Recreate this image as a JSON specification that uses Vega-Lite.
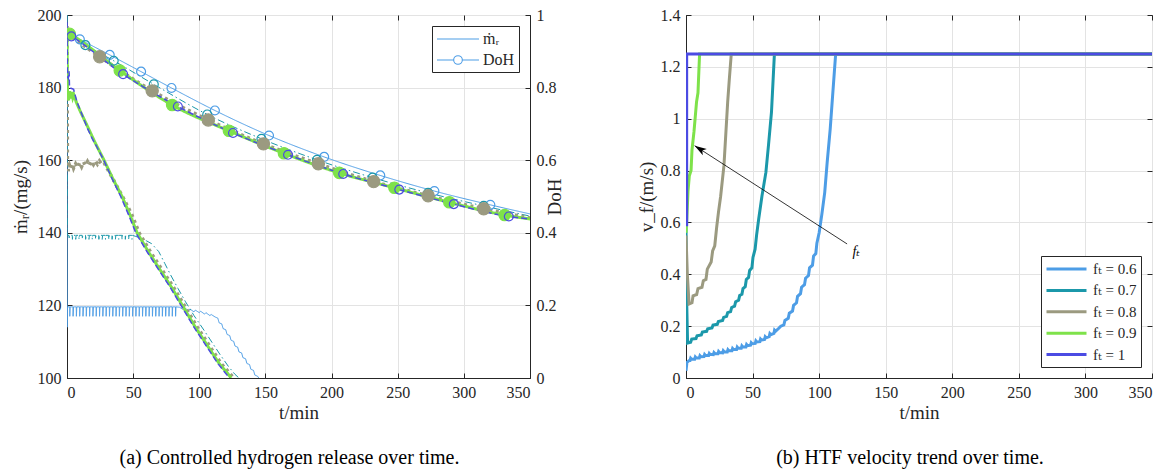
{
  "$schema": "https://vega.github.io/schema/vega-lite/v6.json",
  "background": "white",
  "padding": {"left": 10, "top": 6, "right": 5, "bottom": 5},
  "spacing": 71,
  "config": {
    "font": "Liberation Serif, DejaVu Serif, serif",
    "view": {"stroke": "#262626", "strokeWidth": 1},
    "axis": {
      "labelFont": "Liberation Serif, DejaVu Serif, serif", "titleFont": "Liberation Serif, DejaVu Serif, serif",
      "labelFontSize": 16, "titleFontSize": 19, "titleFontWeight": "normal",
      "labelColor": "#262626", "titleColor": "#262626",
      "domainColor": "#262626", "tickColor": "#262626",
      "gridColor": "#e3e3e3", "tickSize": -5, "labelPadding": 11, "titlePadding": 3
    },
    "legend": {
      "labelFont": "Liberation Serif, DejaVu Serif, serif", "labelFontSize": 16, "labelColor": "#262626",
      "strokeColor": "#262626", "fillColor": "white", "padding": 4
    },
    "title": {"font": "Liberation Serif, DejaVu Serif, serif", "fontSize": 20, "fontWeight": "normal", "color": "black"}
  },
  "resolve": {
    "scale": {"color": "independent", "shape": "independent"},
    "legend": {"color": "independent", "shape": "independent"}
  },
  "datasets": {
    "mr": [
      {"f":"0.6","t":0,"v":200},{"f":"0.6","t":0.15,"v":114},{"f":"0.6","t":0.4,"v":119.6},
      {"f":"0.6","t":2,"v":119.6},{"f":"0.6","t":2.1,"v":117},{"f":"0.6","t":2.4,"v":119.6},
      {"f":"0.6","t":4.5,"v":119.6},{"f":"0.6","t":4.6,"v":117},{"f":"0.6","t":4.9,"v":119.6},
      {"f":"0.6","t":7,"v":119.6},{"f":"0.6","t":7.1,"v":117},{"f":"0.6","t":7.4,"v":119.6},
      {"f":"0.6","t":9.5,"v":119.6},{"f":"0.6","t":9.6,"v":117},{"f":"0.6","t":9.9,"v":119.6},
      {"f":"0.6","t":12,"v":119.6},{"f":"0.6","t":12.1,"v":117},{"f":"0.6","t":12.4,"v":119.6},
      {"f":"0.6","t":14.5,"v":119.6},{"f":"0.6","t":14.6,"v":117},{"f":"0.6","t":14.9,"v":119.6},
      {"f":"0.6","t":17,"v":119.6},{"f":"0.6","t":17.1,"v":117},{"f":"0.6","t":17.4,"v":119.6},
      {"f":"0.6","t":19.5,"v":119.6},{"f":"0.6","t":19.6,"v":117},{"f":"0.6","t":19.9,"v":119.6},
      {"f":"0.6","t":22,"v":119.6},{"f":"0.6","t":22.1,"v":117},{"f":"0.6","t":22.4,"v":119.6},
      {"f":"0.6","t":24.5,"v":119.6},{"f":"0.6","t":24.6,"v":117},{"f":"0.6","t":24.9,"v":119.6},
      {"f":"0.6","t":27,"v":119.6},{"f":"0.6","t":27.1,"v":117},{"f":"0.6","t":27.4,"v":119.6},
      {"f":"0.6","t":29.5,"v":119.6},{"f":"0.6","t":29.6,"v":117},{"f":"0.6","t":29.9,"v":119.6},
      {"f":"0.6","t":32,"v":119.6},{"f":"0.6","t":32.1,"v":117},{"f":"0.6","t":32.4,"v":119.6},
      {"f":"0.6","t":34.5,"v":119.6},{"f":"0.6","t":34.6,"v":117},{"f":"0.6","t":34.9,"v":119.6},
      {"f":"0.6","t":37,"v":119.6},{"f":"0.6","t":37.1,"v":117},{"f":"0.6","t":37.4,"v":119.6},
      {"f":"0.6","t":39.5,"v":119.6},{"f":"0.6","t":39.6,"v":117},{"f":"0.6","t":39.9,"v":119.6},
      {"f":"0.6","t":42,"v":119.6},{"f":"0.6","t":42.1,"v":117},{"f":"0.6","t":42.4,"v":119.6},
      {"f":"0.6","t":44.5,"v":119.6},{"f":"0.6","t":44.6,"v":117},{"f":"0.6","t":44.9,"v":119.6},
      {"f":"0.6","t":47,"v":119.6},{"f":"0.6","t":47.1,"v":117},{"f":"0.6","t":47.4,"v":119.6},
      {"f":"0.6","t":49.5,"v":119.6},{"f":"0.6","t":49.6,"v":117},{"f":"0.6","t":49.9,"v":119.6},
      {"f":"0.6","t":52,"v":119.6},{"f":"0.6","t":52.1,"v":117},{"f":"0.6","t":52.4,"v":119.6},
      {"f":"0.6","t":54.5,"v":119.6},{"f":"0.6","t":54.6,"v":117},{"f":"0.6","t":54.9,"v":119.6},
      {"f":"0.6","t":57,"v":119.6},{"f":"0.6","t":57.1,"v":117},{"f":"0.6","t":57.4,"v":119.6},
      {"f":"0.6","t":59.5,"v":119.6},{"f":"0.6","t":59.6,"v":117},{"f":"0.6","t":59.9,"v":119.6},
      {"f":"0.6","t":62,"v":119.6},{"f":"0.6","t":62.1,"v":117},{"f":"0.6","t":62.4,"v":119.6},
      {"f":"0.6","t":64.5,"v":119.6},{"f":"0.6","t":64.6,"v":117},{"f":"0.6","t":64.9,"v":119.6},
      {"f":"0.6","t":67,"v":119.6},{"f":"0.6","t":67.1,"v":117},{"f":"0.6","t":67.4,"v":119.6},
      {"f":"0.6","t":69.5,"v":119.6},{"f":"0.6","t":69.6,"v":117},{"f":"0.6","t":69.9,"v":119.6},
      {"f":"0.6","t":72,"v":119.6},{"f":"0.6","t":72.1,"v":117},{"f":"0.6","t":72.4,"v":119.6},
      {"f":"0.6","t":74.5,"v":119.6},{"f":"0.6","t":74.6,"v":117},{"f":"0.6","t":74.9,"v":119.6},
      {"f":"0.6","t":77,"v":119.6},{"f":"0.6","t":77.1,"v":117},{"f":"0.6","t":77.4,"v":119.6},
      {"f":"0.6","t":79.5,"v":119.6},{"f":"0.6","t":79.6,"v":117},{"f":"0.6","t":79.9,"v":119.6},
      {"f":"0.6","t":82,"v":119.6},{"f":"0.6","t":82.1,"v":117},{"f":"0.6","t":82.4,"v":119.6},
      {"f":"0.6","t":85,"v":119.5},{"f":"0.6","t":88,"v":118.8},{"f":"0.6","t":89,"v":119.3},
      {"f":"0.6","t":92,"v":118.5},{"f":"0.6","t":93,"v":119},{"f":"0.6","t":96,"v":118.2},
      {"f":"0.6","t":97,"v":118.7},{"f":"0.6","t":100,"v":118},{"f":"0.6","t":101,"v":118.4},
      {"f":"0.6","t":104,"v":117.6},{"f":"0.6","t":105,"v":118},{"f":"0.6","t":108,"v":117.2},
      {"f":"0.6","t":109,"v":117.5},{"f":"0.6","t":112,"v":116.8},{"f":"0.6","t":114,"v":116.5},
      {"f":"0.6","t":115,"v":115.2},{"f":"0.6","t":117,"v":114.9},{"f":"0.6","t":118,"v":113.6},
      {"f":"0.6","t":120,"v":113.3},{"f":"0.6","t":121,"v":112},{"f":"0.6","t":123,"v":111.7},
      {"f":"0.6","t":124,"v":110.4},{"f":"0.6","t":126,"v":110.1},{"f":"0.6","t":127,"v":108.8},
      {"f":"0.6","t":129,"v":108.5},{"f":"0.6","t":130,"v":107.2},{"f":"0.6","t":132,"v":106.9},
      {"f":"0.6","t":133,"v":105.6},{"f":"0.6","t":135,"v":105.3},{"f":"0.6","t":136,"v":104},
      {"f":"0.6","t":138,"v":103.7},{"f":"0.6","t":139,"v":102.4},{"f":"0.6","t":141,"v":102.1},
      {"f":"0.6","t":142,"v":100.8},{"f":"0.6","t":144,"v":100.5},{"f":"0.6","t":145,"v":100},

      {"f":"0.7","t":0,"v":200},{"f":"0.7","t":0.2,"v":139.3},
      {"f":"0.7","t":1.5,"v":139.3},{"f":"0.7","t":1.6,"v":138.2},{"f":"0.7","t":1.9,"v":139.3},
      {"f":"0.7","t":4,"v":139.3},{"f":"0.7","t":4.1,"v":138.2},{"f":"0.7","t":4.4,"v":139.3},
      {"f":"0.7","t":6.5,"v":139.3},{"f":"0.7","t":6.6,"v":138.2},{"f":"0.7","t":6.9,"v":139.3},
      {"f":"0.7","t":9,"v":139.3},{"f":"0.7","t":9.1,"v":138.2},{"f":"0.7","t":9.4,"v":139.3},
      {"f":"0.7","t":11.5,"v":139.3},{"f":"0.7","t":11.6,"v":138.2},{"f":"0.7","t":11.9,"v":139.3},
      {"f":"0.7","t":14,"v":139.3},{"f":"0.7","t":14.1,"v":138.2},{"f":"0.7","t":14.4,"v":139.3},
      {"f":"0.7","t":16.5,"v":139.3},{"f":"0.7","t":16.6,"v":138.2},{"f":"0.7","t":16.9,"v":139.3},
      {"f":"0.7","t":19,"v":139.3},{"f":"0.7","t":19.1,"v":138.2},{"f":"0.7","t":19.4,"v":139.3},
      {"f":"0.7","t":21.5,"v":139.3},{"f":"0.7","t":21.6,"v":138.2},{"f":"0.7","t":21.9,"v":139.3},
      {"f":"0.7","t":24,"v":139.3},{"f":"0.7","t":24.1,"v":138.2},{"f":"0.7","t":24.4,"v":139.3},
      {"f":"0.7","t":26.5,"v":139.3},{"f":"0.7","t":26.6,"v":138.2},{"f":"0.7","t":26.9,"v":139.3},
      {"f":"0.7","t":29,"v":139.3},{"f":"0.7","t":29.1,"v":138.2},{"f":"0.7","t":29.4,"v":139.3},
      {"f":"0.7","t":31.5,"v":139.3},{"f":"0.7","t":31.6,"v":138.2},{"f":"0.7","t":31.9,"v":139.3},
      {"f":"0.7","t":34,"v":139.3},{"f":"0.7","t":34.1,"v":138.2},{"f":"0.7","t":34.4,"v":139.3},
      {"f":"0.7","t":36.5,"v":139.3},{"f":"0.7","t":36.6,"v":138.2},{"f":"0.7","t":36.9,"v":139.3},
      {"f":"0.7","t":39,"v":139.3},{"f":"0.7","t":39.1,"v":138.2},{"f":"0.7","t":39.4,"v":139.3},
      {"f":"0.7","t":41.5,"v":139.3},{"f":"0.7","t":41.6,"v":138.2},{"f":"0.7","t":41.9,"v":139.3},
      {"f":"0.7","t":44,"v":139.3},{"f":"0.7","t":44.1,"v":138.2},{"f":"0.7","t":44.4,"v":139.3},
      {"f":"0.7","t":46.5,"v":139.3},{"f":"0.7","t":46.6,"v":138.2},{"f":"0.7","t":46.9,"v":139.3},
      {"f":"0.7","t":49,"v":139.3},{"f":"0.7","t":49.1,"v":138.2},{"f":"0.7","t":49.4,"v":139.3},
      {"f":"0.7","t":52,"v":139},{"f":"0.7","t":56,"v":138.5},{"f":"0.7","t":60,"v":137.8},
      {"f":"0.7","t":64,"v":137},{"f":"0.7","t":69.4,"v":134.8},{"f":"0.7","t":74,"v":131.5},
      {"f":"0.7","t":78.3,"v":128.4},{"f":"0.7","t":84,"v":124.6},{"f":"0.7","t":89.6,"v":121},
      {"f":"0.7","t":96,"v":117.2},{"f":"0.7","t":103.5,"v":113.2},{"f":"0.7","t":110,"v":109.6},
      {"f":"0.7","t":116,"v":106.3},{"f":"0.7","t":122,"v":103.2},{"f":"0.7","t":127,"v":101},
      {"f":"0.7","t":130,"v":100},

      {"f":"0.8","t":0,"v":197},{"f":"0.8","t":0.3,"v":160},{"f":"0.8","t":1,"v":157},
      {"f":"0.8","t":2,"v":158.5},{"f":"0.8","t":3,"v":157.5},{"f":"0.8","t":4,"v":159},
      {"f":"0.8","t":5,"v":157.8},{"f":"0.8","t":6.5,"v":159},{"f":"0.8","t":8,"v":158},
      {"f":"0.8","t":9.5,"v":159.3},{"f":"0.8","t":11,"v":158.2},{"f":"0.8","t":12.5,"v":159.5},
      {"f":"0.8","t":14,"v":158.5},{"f":"0.8","t":15.5,"v":159.6},{"f":"0.8","t":17,"v":158.6},
      {"f":"0.8","t":18.5,"v":159.7},{"f":"0.8","t":20,"v":158.8},{"f":"0.8","t":21.5,"v":159.8},
      {"f":"0.8","t":23,"v":158.9},{"f":"0.8","t":24.5,"v":159.8},{"f":"0.8","t":26,"v":159},
      {"f":"0.8","t":28,"v":159.3},{"f":"0.8","t":31,"v":157.3},{"f":"0.8","t":34,"v":155.3},
      {"f":"0.8","t":38.5,"v":152.3},{"f":"0.8","t":43,"v":149.3},{"f":"0.8","t":49,"v":145},
      {"f":"0.8","t":54.5,"v":140},{"f":"0.8","t":63.5,"v":134.5},{"f":"0.8","t":71.5,"v":130},
      {"f":"0.8","t":80.5,"v":125},{"f":"0.8","t":89.5,"v":119.5},{"f":"0.8","t":98.5,"v":114},
      {"f":"0.8","t":107.5,"v":109},{"f":"0.8","t":116.5,"v":104},{"f":"0.8","t":123,"v":101.3},
      {"f":"0.8","t":126,"v":100},

      {"f":"0.9","t":0,"v":196},{"f":"0.9","t":0.4,"v":178},{"f":"0.9","t":1.2,"v":176.5},
      {"f":"0.9","t":2,"v":179},{"f":"0.9","t":2.8,"v":177},{"f":"0.9","t":3.6,"v":178.8},
      {"f":"0.9","t":4.4,"v":177.2},{"f":"0.9","t":5.2,"v":178},{"f":"0.9","t":7,"v":176},
      {"f":"0.9","t":10,"v":173.5},{"f":"0.9","t":14.6,"v":170},{"f":"0.9","t":21,"v":165},
      {"f":"0.9","t":28,"v":160},{"f":"0.9","t":34.5,"v":155},{"f":"0.9","t":41.6,"v":150},
      {"f":"0.9","t":47.5,"v":145},{"f":"0.9","t":53,"v":140},{"f":"0.9","t":62,"v":134.5},
      {"f":"0.9","t":70,"v":130},{"f":"0.9","t":79,"v":125},{"f":"0.9","t":88,"v":119.5},
      {"f":"0.9","t":97,"v":114},{"f":"0.9","t":106,"v":109},{"f":"0.9","t":115,"v":104},
      {"f":"0.9","t":122,"v":101},{"f":"0.9","t":124,"v":100},

      {"f":"1","t":0,"v":198},{"f":"1","t":0.3,"v":183},{"f":"1","t":1,"v":182.5},
      {"f":"1","t":1.6,"v":184.5},{"f":"1","t":1.9,"v":180},{"f":"1","t":5,"v":179.5},
      {"f":"1","t":7.6,"v":176},{"f":"1","t":11.4,"v":172.5},{"f":"1","t":15.2,"v":169},
      {"f":"1","t":19,"v":166},{"f":"1","t":22.8,"v":163.5},{"f":"1","t":27.8,"v":160},
      {"f":"1","t":34,"v":155},{"f":"1","t":40.6,"v":150},{"f":"1","t":46.5,"v":145},
      {"f":"1","t":52,"v":140},{"f":"1","t":61,"v":134.5},{"f":"1","t":69,"v":130},
      {"f":"1","t":78,"v":125},{"f":"1","t":87,"v":119.5},{"f":"1","t":96,"v":114},
      {"f":"1","t":105,"v":109},{"f":"1","t":114,"v":104},{"f":"1","t":121,"v":100.8},
      {"f":"1","t":123,"v":100}
    ],
    "doh": [
      {"f":"0.6","t":0,"v":0.952,"m":0},{"f":"0.6","t":9.7,"v":0.933,"m":1},{"f":"0.6","t":32.3,"v":0.89,"m":1},
      {"f":"0.6","t":56,"v":0.844,"m":1},{"f":"0.6","t":79,"v":0.799,"m":1},{"f":"0.6","t":111.8,"v":0.737,"m":1},
      {"f":"0.6","t":152.7,"v":0.668,"m":1},{"f":"0.6","t":194.4,"v":0.609,"m":1},{"f":"0.6","t":236.8,"v":0.558,"m":1},
      {"f":"0.6","t":277.7,"v":0.515,"m":1},{"f":"0.6","t":320,"v":0.477,"m":1},{"f":"0.6","t":350,"v":0.452,"m":0},

      {"f":"0.7","t":0,"v":0.95,"m":0},{"f":"0.7","t":13.9,"v":0.917,"m":1},{"f":"0.7","t":35.3,"v":0.874,"m":1},
      {"f":"0.7","t":65.6,"v":0.809,"m":1},{"f":"0.7","t":106,"v":0.726,"m":1},{"f":"0.7","t":147,"v":0.659,"m":1},
      {"f":"0.7","t":189,"v":0.601,"m":1},{"f":"0.7","t":231,"v":0.552,"m":1},{"f":"0.7","t":273,"v":0.51,"m":1},
      {"f":"0.7","t":315,"v":0.474,"m":1},{"f":"0.7","t":350,"v":0.446,"m":0},

      {"f":"0.8","t":0,"v":0.948,"m":0},{"f":"0.8","t":24.7,"v":0.885,"m":1},{"f":"0.8","t":64.4,"v":0.791,"m":1},
      {"f":"0.8","t":106.8,"v":0.711,"m":1},{"f":"0.8","t":148.5,"v":0.645,"m":1},{"f":"0.8","t":190,"v":0.59,"m":1},
      {"f":"0.8","t":231.8,"v":0.541,"m":1},{"f":"0.8","t":273,"v":0.502,"m":1},{"f":"0.8","t":315,"v":0.466,"m":1},
      {"f":"0.8","t":350,"v":0.441,"m":0},

      {"f":"0.9","t":0,"v":0.952,"m":0},{"f":"0.9","t":2,"v":0.948,"m":1},{"f":"0.9","t":39.9,"v":0.847,"m":1},
      {"f":"0.9","t":79.5,"v":0.752,"m":1},{"f":"0.9","t":122.4,"v":0.681,"m":1},{"f":"0.9","t":164,"v":0.619,"m":1},
      {"f":"0.9","t":205.8,"v":0.565,"m":1},{"f":"0.9","t":247.5,"v":0.524,"m":1},{"f":"0.9","t":289,"v":0.484,"m":1},
      {"f":"0.9","t":330.8,"v":0.449,"m":1},{"f":"0.9","t":350,"v":0.438,"m":0},

      {"f":"1","t":0,"v":0.948,"m":0},{"f":"1","t":3.3,"v":0.941,"m":1},{"f":"1","t":42.4,"v":0.837,"m":1},
      {"f":"1","t":83.8,"v":0.748,"m":1},{"f":"1","t":125.5,"v":0.675,"m":1},{"f":"1","t":167.1,"v":0.615,"m":1},
      {"f":"1","t":208.8,"v":0.562,"m":1},{"f":"1","t":251.2,"v":0.519,"m":1},{"f":"1","t":292.4,"v":0.479,"m":1},
      {"f":"1","t":334,"v":0.445,"m":1},{"f":"1","t":350,"v":0.438,"m":0}
    ],
    "leg": [{"k":"ṁᵣ"},{"k":"DoH"}],
    "vf": [
      {"f":"0.6","t":0,"v":0.028},{"f":"0.6","t":0.7,"v":0.06},{"f":"0.6","t":2.3,"v":0.067},
      {"f":"0.6","t":3,"v":0.0674},{"f":"0.6","t":3.5,"v":0.076},{"f":"0.6","t":4.2,"v":0.072},
      {"f":"0.6","t":6.5,"v":0.0724},{"f":"0.6","t":7,"v":0.081},{"f":"0.6","t":7.7,"v":0.077},
      {"f":"0.6","t":10,"v":0.0774},{"f":"0.6","t":10.5,"v":0.086},{"f":"0.6","t":11.2,"v":0.082},
      {"f":"0.6","t":13.5,"v":0.0824},{"f":"0.6","t":14,"v":0.091},{"f":"0.6","t":14.7,"v":0.087},
      {"f":"0.6","t":17,"v":0.0869},{"f":"0.6","t":17.5,"v":0.095},{"f":"0.6","t":18.2,"v":0.091},
      {"f":"0.6","t":20.5,"v":0.0902},{"f":"0.6","t":21,"v":0.098},{"f":"0.6","t":21.7,"v":0.094},
      {"f":"0.6","t":24,"v":0.0934},{"f":"0.6","t":24.5,"v":0.102},{"f":"0.6","t":25.2,"v":0.098},
      {"f":"0.6","t":27.5,"v":0.0967},{"f":"0.6","t":28,"v":0.105},{"f":"0.6","t":28.7,"v":0.101},
      {"f":"0.6","t":31,"v":0.1004},{"f":"0.6","t":31.5,"v":0.109},{"f":"0.6","t":32.2,"v":0.105},
      {"f":"0.6","t":34.5,"v":0.1051},{"f":"0.6","t":35,"v":0.114},{"f":"0.6","t":35.7,"v":0.11},
      {"f":"0.6","t":38,"v":0.1099},{"f":"0.6","t":38.5,"v":0.119},{"f":"0.6","t":39.2,"v":0.115},
      {"f":"0.6","t":41.5,"v":0.1146},{"f":"0.6","t":42,"v":0.124},{"f":"0.6","t":42.7,"v":0.12},
      {"f":"0.6","t":45,"v":0.1199},{"f":"0.6","t":45.5,"v":0.129},{"f":"0.6","t":46.2,"v":0.125},
      {"f":"0.6","t":48.5,"v":0.1267},{"f":"0.6","t":49,"v":0.136},{"f":"0.6","t":49.7,"v":0.132},
      {"f":"0.6","t":52,"v":0.1334},{"f":"0.6","t":52.5,"v":0.143},{"f":"0.6","t":53.2,"v":0.139},
      {"f":"0.6","t":55.5,"v":0.1401},{"f":"0.6","t":56,"v":0.15},{"f":"0.6","t":56.7,"v":0.146},
      {"f":"0.6","t":59,"v":0.1488},{"f":"0.6","t":59.5,"v":0.159},{"f":"0.6","t":60.2,"v":0.155},
      {"f":"0.6","t":62.5,"v":0.1599},{"f":"0.6","t":63,"v":0.171},{"f":"0.6","t":63.7,"v":0.167},
      {"f":"0.6","t":66,"v":0.1716},{"f":"0.6","t":66.5,"v":0.184},{"f":"0.6","t":67.2,"v":0.18},
      {"f":"0.6","t":69.5,"v":0.1907},{"f":"0.6","t":71.2,"v":0.2},{"f":"0.6","t":73.5,"v":0.205},
      {"f":"0.6","t":74.3,"v":0.222},{"f":"0.6","t":76.8,"v":0.23},{"f":"0.6","t":77.6,"v":0.25},
      {"f":"0.6","t":80,"v":0.258},{"f":"0.6","t":80.8,"v":0.28},{"f":"0.6","t":83,"v":0.29},
      {"f":"0.6","t":83.8,"v":0.315},{"f":"0.6","t":86,"v":0.325},{"f":"0.6","t":86.8,"v":0.35},
      {"f":"0.6","t":89,"v":0.36},{"f":"0.6","t":89.8,"v":0.385},{"f":"0.6","t":92,"v":0.395},
      {"f":"0.6","t":92.8,"v":0.425},{"f":"0.6","t":95,"v":0.435},{"f":"0.6","t":95.8,"v":0.47},
      {"f":"0.6","t":97.5,"v":0.48},{"f":"0.6","t":98.3,"v":0.52},{"f":"0.6","t":100,"v":0.56},
      {"f":"0.6","t":102,"v":0.63},{"f":"0.6","t":104.2,"v":0.716},{"f":"0.6","t":106,"v":0.83},
      {"f":"0.6","t":108.3,"v":0.96},{"f":"0.6","t":110,"v":1.08},{"f":"0.6","t":112.4,"v":1.25},
      {"f":"0.6","t":350,"v":1.25},

      {"f":"0.7","t":0,"v":0.6},{"f":"0.7","t":0.5,"v":0.3},{"f":"0.7","t":1.2,"v":0.135},
      {"f":"0.7","t":3.5,"v":0.138},{"f":"0.7","t":4.3,"v":0.15},{"f":"0.7","t":7.5,"v":0.152},
      {"f":"0.7","t":8.3,"v":0.163},{"f":"0.7","t":11.5,"v":0.166},{"f":"0.7","t":12.3,"v":0.177},
      {"f":"0.7","t":15.5,"v":0.18},{"f":"0.7","t":16.3,"v":0.19},{"f":"0.7","t":19.5,"v":0.193},
      {"f":"0.7","t":20.3,"v":0.204},{"f":"0.7","t":23.5,"v":0.207},{"f":"0.7","t":24.3,"v":0.218},
      {"f":"0.7","t":27.5,"v":0.222},{"f":"0.7","t":28.3,"v":0.234},{"f":"0.7","t":30.5,"v":0.238},
      {"f":"0.7","t":31.3,"v":0.252},{"f":"0.7","t":33.5,"v":0.256},{"f":"0.7","t":34.3,"v":0.272},
      {"f":"0.7","t":36.5,"v":0.277},{"f":"0.7","t":37.3,"v":0.294},{"f":"0.7","t":39.5,"v":0.3},
      {"f":"0.7","t":40.3,"v":0.318},{"f":"0.7","t":42,"v":0.323},{"f":"0.7","t":42.8,"v":0.345},
      {"f":"0.7","t":44.5,"v":0.352},{"f":"0.7","t":45.3,"v":0.38},{"f":"0.7","t":47,"v":0.388},
      {"f":"0.7","t":47.8,"v":0.415},{"f":"0.7","t":49.5,"v":0.425},{"f":"0.7","t":50.3,"v":0.465},
      {"f":"0.7","t":51.9,"v":0.497},{"f":"0.7","t":53,"v":0.55},{"f":"0.7","t":54.6,"v":0.613},
      {"f":"0.7","t":57,"v":0.7},{"f":"0.7","t":60,"v":0.793},{"f":"0.7","t":62,"v":0.9},
      {"f":"0.7","t":64.2,"v":1.025},{"f":"0.7","t":66.4,"v":1.25},{"f":"0.7","t":350,"v":1.25},

      {"f":"0.8","t":0,"v":0.55},{"f":"0.8","t":1,"v":0.4},{"f":"0.8","t":2.3,"v":0.285},
      {"f":"0.8","t":4.5,"v":0.29},{"f":"0.8","t":5.3,"v":0.317},{"f":"0.8","t":8,"v":0.322},
      {"f":"0.8","t":9,"v":0.345},{"f":"0.8","t":12,"v":0.35},{"f":"0.8","t":13,"v":0.375},
      {"f":"0.8","t":15,"v":0.38},{"f":"0.8","t":16,"v":0.42},{"f":"0.8","t":18.9,"v":0.447},
      {"f":"0.8","t":20,"v":0.49},{"f":"0.8","t":21.6,"v":0.51},{"f":"0.8","t":23,"v":0.58},
      {"f":"0.8","t":24.4,"v":0.64},{"f":"0.8","t":26,"v":0.7},{"f":"0.8","t":28.5,"v":0.819},
      {"f":"0.8","t":30,"v":0.95},{"f":"0.8","t":31.3,"v":1.064},{"f":"0.8","t":32.5,"v":1.15},
      {"f":"0.8","t":34,"v":1.25},{"f":"0.8","t":350,"v":1.25},

      {"f":"0.9","t":0,"v":0.56},{"f":"0.9","t":0.5,"v":0.6},{"f":"0.9","t":1.5,"v":0.72},
      {"f":"0.9","t":2.5,"v":0.78},{"f":"0.9","t":3.8,"v":0.8},{"f":"0.9","t":4.5,"v":0.88},
      {"f":"0.9","t":6,"v":0.95},{"f":"0.9","t":7.9,"v":1.064},{"f":"0.9","t":9,"v":1.1},
      {"f":"0.9","t":10.2,"v":1.25},{"f":"0.9","t":350,"v":1.25},

      {"f":"1","t":0.5,"v":0.585},{"f":"1","t":0.5,"v":1.25},{"f":"1","t":350,"v":1.25}
    ],
    "arrow": [{"x1": 121, "y1": 0.517, "x2": 6.5, "y2": 0.896}],
    "lab": [{"t": 125, "v": 0.485, "s": "fₜ"}]
  },
  "hconcat": [
    {
      "width": 463,
      "height": 363,
      "title": {"text": "(a) Controlled hydrogen release over time.", "orient": "bottom", "offset": 26, "dx": -9},
      "resolve": {"scale": {"y": "independent"}, "axis": {"x": "independent"}},
      "layer": [
        {
          "data": {"name": "mr"},
          "mark": {"type": "line", "clip": true, "strokeCap": "butt"},
          "encoding": {
            "x": {
              "field": "t", "type": "quantitative",
              "scale": {"domain": [0, 350], "nice": false},
              "axis": {"values": [0, 50, 100, 150, 200, 250, 300, 350], "title": "t/min", "grid": true}
            },
            "y": {
              "field": "v", "type": "quantitative",
              "scale": {"domain": [100, 200], "nice": false},
              "axis": {"values": [100, 120, 140, 160, 180, 200], "title": "ṁᵣ/(mg/s)", "grid": true, "titlePadding": 7}
            },
            "color": {
              "field": "f", "type": "nominal",
              "scale": {"domain": ["0.6", "0.7", "0.8", "0.9", "1"], "range": ["#4d9de6", "#1b98aa", "#9b9a80", "#7ee24a", "#4b4be3"]},
              "legend": null
            },
            "strokeWidth": {
              "condition": [
                {"test": "datum.f == '0.8'", "value": 3.5},
                {"test": "datum.f == '0.9'", "value": 3},
                {"test": "datum.f == '1'", "value": 1.5}
              ],
              "value": 1
            },
            "strokeDash": {
              "condition": [
                {"test": "datum.f == '0.7'", "value": [7, 3, 1.5, 3]},
                {"test": "datum.f == '0.8'", "value": [3, 3.5]},
                {"test": "datum.f == '1'", "value": [6, 3]}
              ],
              "value": [1, 0]
            }
          }
        },
        {
          "encoding": {
            "x": {
              "field": "t", "type": "quantitative",
              "scale": {"domain": [0, 350], "nice": false},
              "axis": {"orient": "top", "values": [0, 50, 100, 150, 200, 250, 300, 350], "labels": false, "title": null, "grid": false, "domain": false}
            },
            "y": {
              "field": "v", "type": "quantitative",
              "scale": {"domain": [0, 1], "nice": false},
              "axis": {"orient": "right", "values": [0, 0.2, 0.4, 0.6, 0.8, 1], "format": "~g", "title": "DoH", "titleAngle": -90, "grid": false, "titlePadding": 8}
            }
          },
          "layer": [
            {
              "data": {"name": "doh"},
              "mark": {"type": "line", "clip": true, "interpolate": "monotone", "strokeCap": "butt"},
              "encoding": {
                "color": {"field": "f", "type": "nominal", "legend": null},
                "strokeWidth": {
                  "condition": [
                    {"test": "datum.f == '0.8'", "value": 3.5},
                    {"test": "datum.f == '0.9'", "value": 3},
                    {"test": "datum.f == '1'", "value": 1.5}
                  ],
                  "value": 1
                },
                "strokeDash": {
                  "condition": [
                    {"test": "datum.f == '0.7'", "value": [7, 3, 1.5, 3]},
                    {"test": "datum.f == '0.8'", "value": [3, 3.5]},
                    {"test": "datum.f == '1'", "value": [6, 3]}
                  ],
                  "value": [1, 0]
                }
              }
            },
            {
              "data": {"name": "doh"},
              "transform": [{"filter": "datum.m == 1"}],
              "mark": {"type": "point", "filled": true, "strokeWidth": 1.2, "opacity": 1, "clip": true},
              "encoding": {
                "stroke": {
                  "field": "f", "type": "nominal",
                  "scale": {"domain": ["0.6", "0.7", "0.8", "0.9", "1"], "range": ["#4d9de6", "#1b98aa", "#9b9a80", "#7ee24a", "#4b4be3"]},
                  "legend": null
                },
                "fill": {
                  "condition": {
                    "test": "datum.f == '0.8' || datum.f == '0.9'",
                    "field": "f", "type": "nominal",
                    "scale": {"domain": ["0.6", "0.7", "0.8", "0.9", "1"], "range": ["#4d9de6", "#1b98aa", "#9b9a80", "#7ee24a", "#4b4be3"]},
                    "legend": null
                  },
                  "value": "transparent"
                },
                "size": {
                  "condition": [
                    {"test": "datum.f == '0.8'", "value": 150},
                    {"test": "datum.f == '0.9'", "value": 130}
                  ],
                  "value": 80
                }
              }
            },
            {
              "data": {"name": "leg"},
              "mark": {"type": "point", "filled": false, "color": "#4d9de6"},
              "encoding": {
                "shape": {
                  "field": "k", "type": "nominal",
                  "scale": {
                    "domain": ["ṁᵣ", "DoH"],
                    "range": ["M-1,0L4.25,0", "M-1,0L1.085,0M2.165,0L4.25,0M1.085,0A0.54,0.54 0 1,1 2.165,0A0.54,0.54 0 1,1 1.085,0"]
                  },
                  "legend": {
                    "title": null, "orient": "top-right", "offset": 11,
                    "symbolSize": 256, "symbolFillColor": "transparent", "symbolStrokeColor": "#4d9de6",
                    "symbolStrokeWidth": 1.1, "symbolOpacity": 1, "labelOffset": 29, "rowPadding": 4, "padding": 4
                  }
                }
              }
            }
          ]
        }
      ]
    },
    {
      "width": 466,
      "height": 363,
      "title": {"text": "(b) HTF velocity trend over time.", "orient": "bottom", "offset": 26, "dx": -9},
      "resolve": {"axis": {"x": "independent", "y": "independent"}},
      "layer": [
        {
          "data": {"name": "vf"},
          "mark": {"type": "line", "clip": true, "strokeWidth": 3},
          "encoding": {
            "x": {
              "field": "t", "type": "quantitative",
              "scale": {"domain": [0, 350], "nice": false},
              "axis": {"values": [0, 50, 100, 150, 200, 250, 300, 350], "title": "t/min", "grid": true}
            },
            "y": {
              "field": "v", "type": "quantitative",
              "scale": {"domain": [0, 1.4], "nice": false},
              "axis": {"values": [0, 0.2, 0.4, 0.6, 0.8, 1, 1.2, 1.4], "format": "~g", "title": "v_f/(m/s)", "grid": true, "titlePadding": 4}
            },
            "color": {
              "field": "f", "type": "nominal",
              "scale": {"domain": ["0.6", "0.7", "0.8", "0.9", "1"], "range": ["#4d9de6", "#1b98aa", "#9b9a80", "#7ee24a", "#4b4be3"]},
              "legend": {
                "title": null, "orient": "bottom-right", "offset": 11,
                "labelExpr": "'fₜ = ' + datum.label",
                "symbolType": "M-1,0L4.333,0", "symbolSize": 225, "symbolStrokeWidth": 3,
                "labelFontSize": 15, "labelOffset": 30, "rowPadding": 4.4, "padding": 4
              }
            }
          }
        },
        {
          "data": {"name": "arrow"},
          "mark": {"type": "rule", "color": "black", "strokeWidth": 0.8},
          "encoding": {
            "x": {
              "field": "x1", "type": "quantitative",
              "axis": {"orient": "top", "values": [0, 50, 100, 150, 200, 250, 300, 350], "labels": false, "title": null, "grid": false, "domain": false}
            },
            "y": {
              "field": "y1", "type": "quantitative",
              "axis": {"orient": "right", "values": [0, 0.2, 0.4, 0.6, 0.8, 1, 1.2, 1.4], "labels": false, "title": null, "grid": false, "domain": false}
            },
            "x2": {"field": "x2"},
            "y2": {"field": "y2"}
          }
        },
        {
          "data": {"name": "arrow"},
          "mark": {"type": "point", "shape": "M0,0L0.55,1.8L0,1.35L-0.55,1.8Z", "filled": true, "color": "black", "opacity": 1, "size": 180, "angle": 302.8},
          "encoding": {
            "x": {"field": "x2", "type": "quantitative", "axis": null},
            "y": {"field": "y2", "type": "quantitative", "axis": null}
          }
        },
        {
          "data": {"name": "lab"},
          "mark": {"type": "text", "font": "Liberation Serif, DejaVu Serif, serif", "fontStyle": "italic", "fontSize": 14, "align": "left", "baseline": "middle", "color": "black"},
          "encoding": {
            "x": {"field": "t", "type": "quantitative", "axis": null},
            "y": {"field": "v", "type": "quantitative", "axis": null},
            "text": {"field": "s"}
          }
        }
      ]
    }
  ]
}
